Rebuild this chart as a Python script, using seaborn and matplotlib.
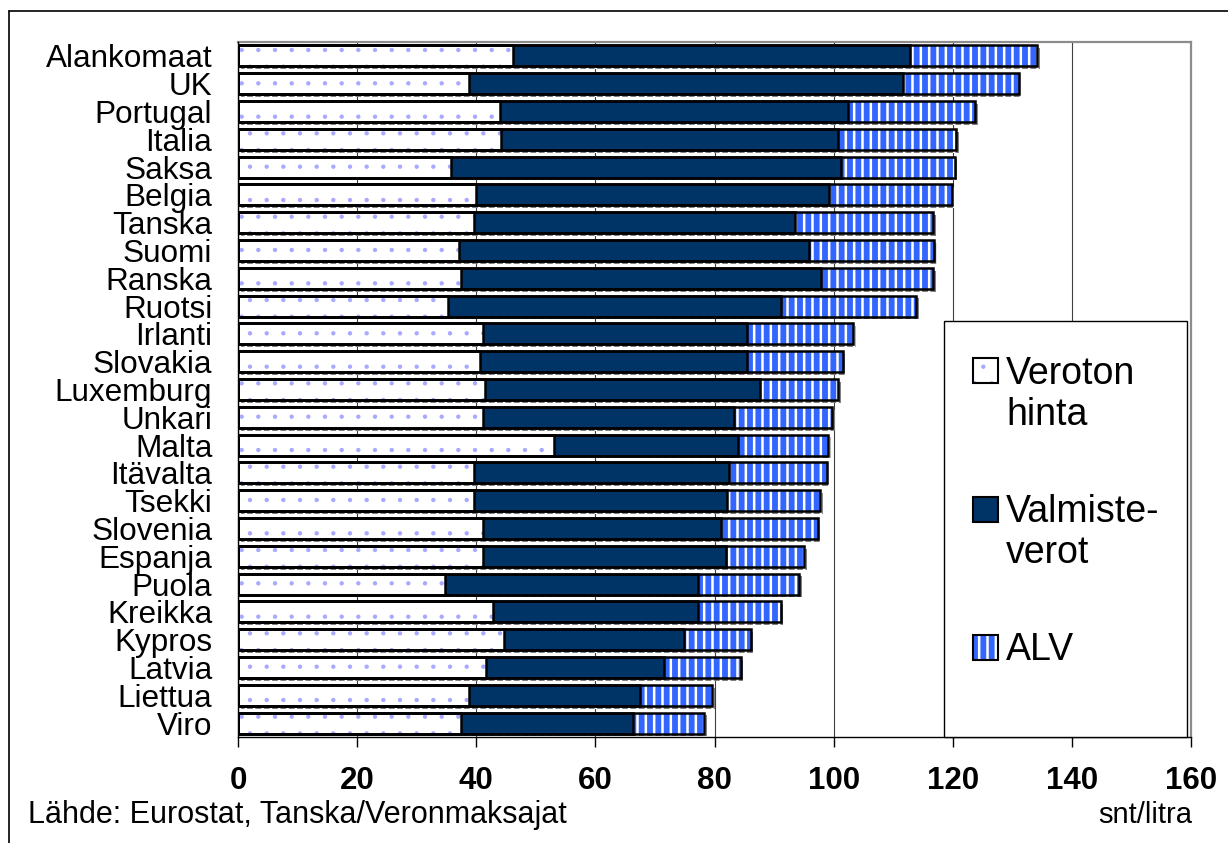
import numpy as np
import pandas as pd
import matplotlib
matplotlib.use("Agg")
import matplotlib.pyplot as plt
import matplotlib.patheffects as pe
from matplotlib.patches import Rectangle
from matplotlib.lines import Line2D
import seaborn as sns

# Bensiinin hinnan rakenne, snt/litra
countries = ["Alankomaat", "UK", "Portugal", "Italia", "Saksa", "Belgia", "Tanska",
             "Suomi", "Ranska", "Ruotsi", "Irlanti", "Slovakia", "Luxemburg", "Unkari",
             "Malta", "Itävalta", "Tsekki", "Slovenia", "Espanja", "Puola", "Kreikka",
             "Kypros", "Latvia", "Liettua", "Viro"]
veroton = [46.2, 38.8, 44.0, 44.2, 35.7, 40.0, 39.7, 37.1, 37.4, 35.3, 41.1, 40.7, 41.5,
           41.2, 53.1, 39.7, 39.6, 41.1, 41.1, 34.8, 42.8, 44.6, 41.6, 38.7, 37.4]
valmiste = [66.6, 72.9, 58.4, 56.5, 65.5, 59.3, 53.8, 58.8, 60.4, 55.8, 44.3, 44.7, 46.2,
            42.1, 30.9, 42.7, 42.5, 40.0, 40.9, 42.5, 34.5, 30.2, 29.9, 28.8, 28.9]
alv = [21.3, 19.5, 21.4, 19.9, 19.1, 20.6, 23.2, 21.0, 18.9, 22.7, 17.9, 16.2, 13.1,
       16.5, 15.1, 16.5, 15.6, 16.3, 13.0, 16.9, 13.8, 11.3, 12.9, 12.1, 11.9]
series_labels = ["Veroton\nhinta", "Valmiste-\nverot", "ALV"]
x_ticks = [0, 20, 40, 60, 80, 100, 120, 140, 160]

W, H = 1228, 843
sns.set_style("white")
plt.rcParams["font.family"] = ["Liberation Sans", "DejaVu Sans"]
plt.rcParams["text.color"] = "black"
plt.rcParams["xtick.color"] = "black"
plt.rcParams["ytick.color"] = "black"
plt.rcParams["xtick.labelcolor"] = "black"
plt.rcParams["ytick.labelcolor"] = "black"

df = pd.DataFrame({"maa": countries, "veroton": veroton,
                   "valmiste": valmiste, "alv": alv})
df["kertyma1"] = df["veroton"]
df["kertyma2"] = df["veroton"] + df["valmiste"]
df["kertyma3"] = df["kertyma2"] + df["alv"]

fig = plt.figure(figsize=(W / 100, H / 100), dpi=100)
ax = fig.add_axes([238 / W, 1 - 737 / H, (1191 - 238) / W, (737 - 42) / H])

NAVY = "#003366"
STRIPE = "#3366ff"
DOT = "#a8a8ff"
BAR_W = 0.75


def fill_layer(col, face, hatch=None, hatch_col=None, hatch_lw=1.0, shadow=False):
    n0 = len(ax.patches)
    with plt.rc_context({"hatch.linewidth": hatch_lw}):
        sns.barplot(data=df, x=col, y="maa", order=countries, orient="y",
                    color=face, saturation=1, width=BAR_W, errorbar=None,
                    edgecolor=hatch_col if hatch_col else face, linewidth=0,
                    hatch=hatch, ax=ax, zorder=3)
    for p in ax.patches[n0:]:
        if hasattr(p, "set_hatch_linewidth"):
            p.set_hatch_linewidth(hatch_lw)
        if shadow:
            p.set_path_effects([pe.SimplePatchShadow(offset=(2, -2),
                                                     shadow_rgbFace="#808080",
                                                     alpha=1.0),
                                pe.Normal()])


def outline_layer(col):
    n0 = len(ax.patches)
    sns.barplot(data=df, x=col, y="maa", order=countries, orient="y",
                color="black", fill=False, width=BAR_W, errorbar=None,
                linewidth=1.8, ax=ax, zorder=4)
    for p in ax.patches[n0:]:
        p.set_facecolor("none")
        p.set_edgecolor("black")


# stacked bars: cumulative totals drawn from longest to shortest
fill_layer("kertyma3", STRIPE, hatch="||", hatch_col="white", hatch_lw=1.8, shadow=True)
fill_layer("kertyma2", NAVY)
fill_layer("kertyma1", "white", hatch=".", hatch_col=DOT, hatch_lw=0.7)
outline_layer("kertyma3")
outline_layer("kertyma2")
outline_layer("kertyma1")

ax.set_xlim(0, 160)
ax.set_ylim(len(countries) - 0.5, -0.5)
ax.set_xlabel("")
ax.set_ylabel("")
ax.set_xticks(x_ticks)
ax.set_xticklabels([str(t) for t in x_ticks], fontsize=22.5, fontweight="bold",
                   color="black")
ax.set_yticks(range(len(countries)))
ax.set_yticklabels(countries, fontsize=22.7, color="black")
ax.set_yticks(np.arange(len(countries) + 1) - 0.5, minor=True)
ax.tick_params(axis="y", which="major", length=0, pad=18.5)
ax.tick_params(axis="y", which="minor", length=7.2, width=1, direction="out", color="black")
ax.tick_params(axis="x", which="major", length=7.2, width=1, direction="out",
               color="black", pad=13.5, bottom=True)

ax.grid(axis="x", color="#404040", linewidth=0.8, zorder=0)
ax.grid(axis="y", visible=False)
ax.set_axisbelow(True)
for side in ["left", "bottom"]:
    ax.spines[side].set_color("black")
    ax.spines[side].set_linewidth(1.0)
    ax.spines[side].set_zorder(5)
for side in ["top", "right"]:
    ax.spines[side].set_visible(True)
    ax.spines[side].set_color("#8c8c8c")
    ax.spines[side].set_linewidth(1.6)


def fx(x):
    return x / W


def fy(y):
    return 1 - y / H


# outer frame of the chart
fig.add_artist(Line2D([fx(9), fx(9)], [fy(11), 0], color="black", lw=1.2))
fig.add_artist(Line2D([fx(9), 1], [fy(11), fy(11)], color="black", lw=1.2))

# legend box
fig.add_artist(Rectangle((fx(944), fy(737)), fx(1187) - fx(944), fy(321) - fy(737),
                         transform=fig.transFigure, facecolor="white",
                         edgecolor="black", lw=1.0, zorder=6))

legend_items = [
    (series_labels[0], "white", ".", DOT, 0.7, 358, [384, 425]),
    (series_labels[1], NAVY, None, None, 1.0, 497, [522, 563]),
    (series_labels[2], STRIPE, "||", "white", 1.8, 635, [660]),
]
for label, face, hatch, hcol, hlw, top, baselines in legend_items:
    with plt.rc_context({"hatch.linewidth": hlw}):
        sq = Rectangle((fx(973), fy(top + 25)), fx(998) - fx(973), fy(top) - fy(top + 25),
                       transform=fig.transFigure, facecolor=face,
                       edgecolor=hcol if hcol else face, lw=0, hatch=hatch, zorder=7)
    if hasattr(sq, "set_hatch_linewidth"):
        sq.set_hatch_linewidth(hlw)
    fig.add_artist(sq)
    fig.add_artist(Rectangle((fx(973), fy(top + 25)), fx(998) - fx(973), fy(top) - fy(top + 25),
                             transform=fig.transFigure, facecolor="none",
                             edgecolor="black", lw=1.5, zorder=8))
    for line, base in zip(label.split("\n"), baselines):
        fig.text(fx(1006), fy(base), line, fontsize=27, ha="left", va="baseline",
                 color="black", zorder=8)

fig.text(fx(28), fy(823), "Lähde: Eurostat, Tanska/Veronmaksajat", fontsize=22,
         ha="left", va="baseline", color="black")
fig.text(fx(1192), fy(823), "snt/litra", fontsize=21, ha="right", va="baseline",
         color="black")

fig.savefig("out.png", dpi=100, facecolor="white")
